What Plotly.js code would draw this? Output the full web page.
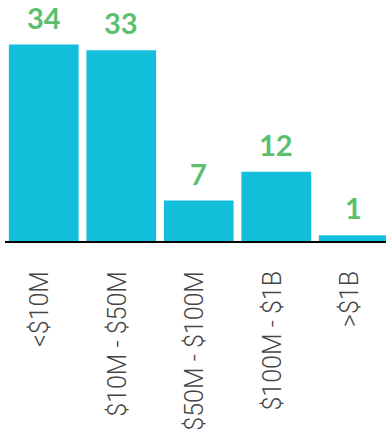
<!DOCTYPE html>
<html>
<head>
<meta charset="utf-8">
<script src="https://cdn.plot.ly/plotly-3.0.1.min.js"></script>
<style>html,body{margin:0;padding:0;background:#fff;overflow:hidden}</style>
</head>
<body>
<div id="chart" style="width:386px;height:439px"></div>
<script>
const categories = ['<$10M', '$10M - $50M', '$50M - $100M', '$100M - $1B', '>$1B'];
const counts = [34, 33, 7, 12, 1];
const positions = [0, 1, 2, 3, 4];

const barColor = '#14BFDC';
const labelColor = '#5BBF6E';

const trace = {
  type: 'bar',
  x: positions,
  y: counts,
  marker: {color: barColor},
  width: 0.9,
  hoverinfo: 'none'
};

const annotations = positions.map((p, i) => ({
  x: p, y: counts[i], xref: 'x', yref: 'y',
  text: String(counts[i]),
  showarrow: false, yanchor: 'bottom', yshift: 9, borderpad: 0,
  font: {family: 'Lato', size: 29, color: labelColor, weight: 700}
}));

const layout = {
  width: 386, height: 439,
  margin: {l: 5, r: 0, t: 0, b: 198},
  paper_bgcolor: '#fff', plot_bgcolor: '#fff',
  showlegend: false,
  xaxis: {
    range: [-0.5, 4.416],
    tickvals: positions.map(p => p - 0.05),
    ticktext: categories,
    tickangle: -90,
    ticks: '',
    ticklabelstandoff: 18,
    tickfont: {family: 'Roboto', size: 25, color: '#444', weight: 300},
    showline: true, linecolor: '#000', linewidth: 2,
    showgrid: false, zeroline: false
  },
  yaxis: {
    range: [0, 41.7],
    visible: false, showgrid: false, zeroline: false
  },
  annotations: annotations
};

Plotly.newPlot('chart', [trace], layout, {displayModeBar: false, staticPlot: true});
</script>
</body>
</html>
